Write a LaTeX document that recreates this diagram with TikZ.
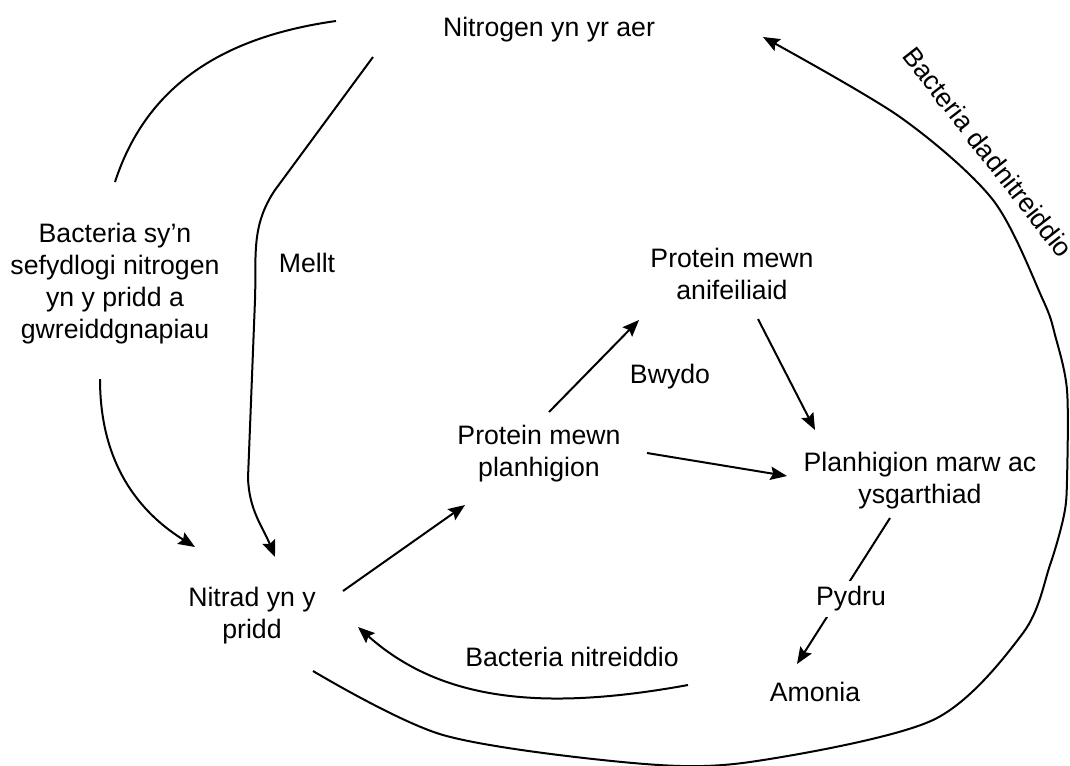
\documentclass[tikz,border=0pt]{standalone}
\usepackage{fontspec}
\setmainfont{Liberation Sans}
\usetikzlibrary{arrows.meta,calc}

\tikzset{
  lbl/.style={align=center, inner sep=1pt, font=\fontsize{20}{24}\selectfont},
  onlink/.style={lbl, fill=white, inner sep=4pt},
  flow/.style={line width=1.5pt, -{Stealth[length=12.5pt,width=10pt,inset=2pt]}},
  bare/.style={line width=1.5pt},
}

\begin{document}
\begin{tikzpicture}[x=0.75pt, y=-0.75pt]
	\useasboundingbox (0,0) rectangle (1070,765);
	
	%%%%% stores of nitrogen %%%%%
	\node[lbl] (aer) at (549,30) {Nitrogen yn yr aer};
	\node[lbl] (bacteria) at (115,284) {Bacteria sy’n\\sefydlogi nitrogen\\yn y pridd a\\gwreiddgnapiau};
	\node[lbl] (nitrad) at (252,616) {Nitrad yn y\\pridd};
	\node[lbl] (planhigion) at (539,454) {Protein mewn\\planhigion};
	\node[lbl] (anifeiliaid) at (732,274) {Protein mewn\\anifeiliaid};
	\node[lbl] (marw) at (920,481) {Planhigion marw ac\\ysgarthiad};
	\node[lbl] (amonia) at (815,692) {Amonia};
	
	%%%%% labels beside the links %%%%%
	\node[lbl] (mellt) at (307,263) {Mellt};
	\node[lbl] (bwydo) at (670,377) {Bwydo};
	\node[lbl] (nitreiddio) at (572,657) {Bacteria nitreiddio};
	\node[lbl, rotate=-52] (dadnitreiddio) at (988,152) {Bacteria dadnitreiddio};
	
	%%%%% fixing %%%%%
	\draw[bare] ($(bacteria)+(0,-102)$) to[out=72, in=188] ($(aer)+(-213,-9)$);
	\draw[flow] ($(bacteria)+(-15,95)$) to[out=-90, in=148] ($(nitrad)+(-57,-69)$);
	
	% lightning
	\draw[flow] ($(aer)+(-176,27)$) -- (275,190) to[out=-124, in=88] (255,300)
		-- (248,478) to[out=-88, in=112] ($(nitrad)+(23,-59)$);
	
	%%%%% food chain %%%%%
	\draw[flow] ($(nitrad)+(91,-25)$) -- ($(planhigion)+(-74,51)$);
	\draw[flow] ($(planhigion)+(10,-42)$) -- ($(anifeiliaid)+(-93,46)$);
	\draw[flow] ($(anifeiliaid)+(26,45)$) -- ($(marw)+(-105,-51)$);
	\draw[flow] ($(planhigion)+(108,-1)$) -- ($(marw)+(-133,-5)$);
	
	% decay
	\draw[flow] ($(marw)+(-30,37)$) -- ($(amonia)+(-18,-28)$);
	\node[onlink] (pydru) at (851,599) {Pydru};
	
	% nitrifying
	\draw[flow] ($(amonia)+(-127,-7)$) .. controls (540,712) and (440,700) .. ($(nitrad)+(106,11)$);
	
	% denitrifying, round the outside
	\draw[flow] plot[smooth, tension=0.5] coordinates {($(nitrad)+(61,55)$) (443,735) (633,763)
		(750,762) (933,720) (1023,633) (1050,565) (1064,515) (1067,480) (1067,390)
		(1055,335) (1043,300) (993,200) (900,117) ($(aer)+(214,7)$)};
\end{tikzpicture}
\end{document}
